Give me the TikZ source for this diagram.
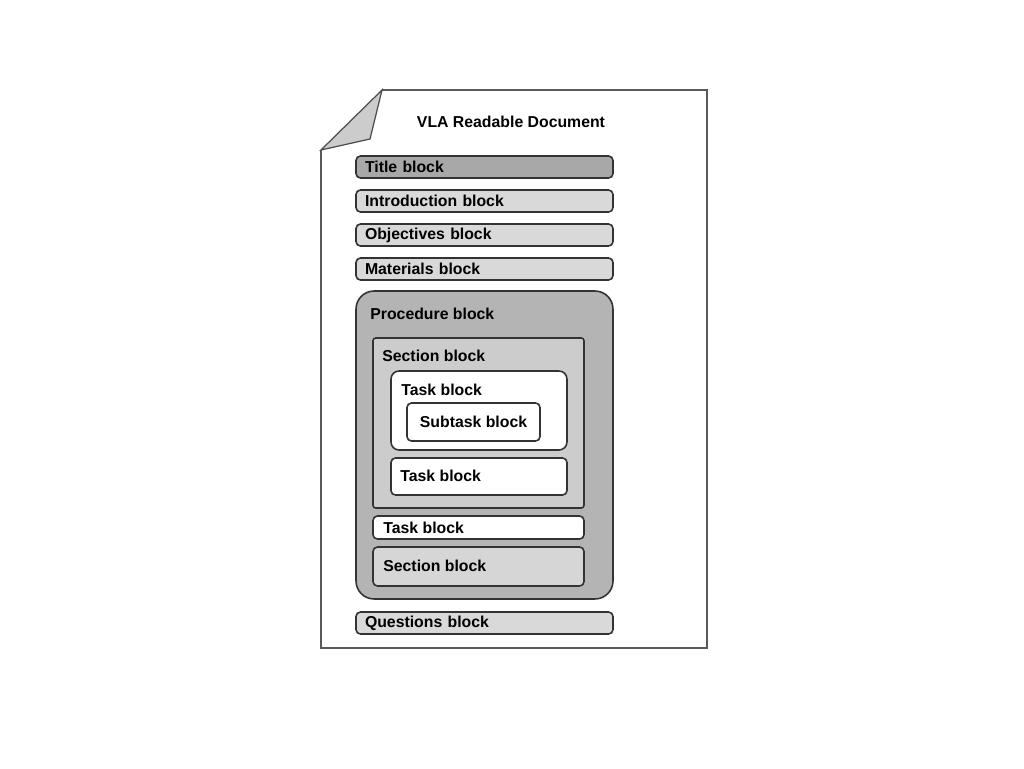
\documentclass[tikz,border=0pt]{standalone}
\usepackage{fontspec}
\setmainfont{Liberation Sans}
\usepackage{tikz}
\usetikzlibrary{positioning}
\definecolor{headgray}{HTML}{A8A8A8}
\definecolor{bargray}{HTML}{D9D9D9}
\definecolor{procgray}{HTML}{B4B4B4}
\definecolor{secgray}{HTML}{CCCCCC}
\definecolor{edgegray}{HTML}{333333}

\begin{document}
\begin{tikzpicture}[x=0.02cm, y=-0.02cm,
    box/.style={rectangle, draw=edgegray, line width=0.9pt, rounded corners=2.5pt, fill=#1, inner sep=0pt},
    bar/.style={box=#1, minimum width=5.14cm, minimum height=0.44cm, text width=4.78cm, inner xsep=0.18cm, align=left, font=\fontsize{9}{10}\selectfont\bfseries},
    lbl/.style={anchor=west, inner sep=0pt, font=\fontsize{9}{10}\selectfont\bfseries}
]
\useasboundingbox[fill=white] (0,0) rectangle (1024,768);
% page with folded corner
\draw[draw=black!65, line width=0.7pt] (382,90) -- (707,90) -- (707,648) -- (321,648) -- (321,150);
\draw[draw=black!70, line width=0.7pt, fill=secgray] (382,90) -- (370,139) -- (321,150) -- cycle;
\node[lbl, anchor=center] (doc) at (511,122) {VLA Readable Document};

% top blocks
\node[bar=headgray] (title) at (484.5,167) {Title block};
\node[bar=bargray] (intro) at (484.5,201) {Introduction block};
\node[bar=bargray] (obj) at (484.5,235) {Objectives block};
\node[bar=bargray] (mat) at (484.5,269) {Materials block};

% procedure and its nested blocks
\node[box=procgray, rounded corners=0.36cm, minimum width=5.14cm, minimum height=6.16cm] (proc) at (484.5,445) {};
\node[lbl] (procl) at (370,314) {Procedure block};
\node[box=secgray, rounded corners=1.5pt, minimum width=4.22cm, minimum height=3.4cm] (sec1) at (478.5,423) {};
\node[lbl] (sec1l) at (382,356) {Section block};
\node[box=white, rounded corners=0.16cm, minimum width=3.52cm, minimum height=1.58cm] (task1) at (479,410.5) {};
\node[lbl] (task1l) at (401,390) {Task block};
\node[box=white, minimum width=2.66cm, minimum height=0.76cm, font=\fontsize{9}{10}\selectfont\bfseries] (sub) at (473.5,422) {Subtask block};
\node[box=white, minimum width=3.52cm, minimum height=0.74cm] (task2) at (479,476.5) {};
\node[lbl] (task2l) at (400,476) {Task block};
\node[box=white, minimum width=4.22cm, minimum height=0.46cm] (task3) at (478.5,527.5) {};
\node[lbl] (task3l) at (383,528) {Task block};
\node[box=secgray!80!white, minimum width=4.22cm, minimum height=0.78cm] (sec2) at (478.5,566.5) {};
\node[lbl] (sec2l) at (383,566) {Section block};

\node[bar=bargray] (quest) at (484.5,623) {Questions block};
\end{tikzpicture}
\end{document}
